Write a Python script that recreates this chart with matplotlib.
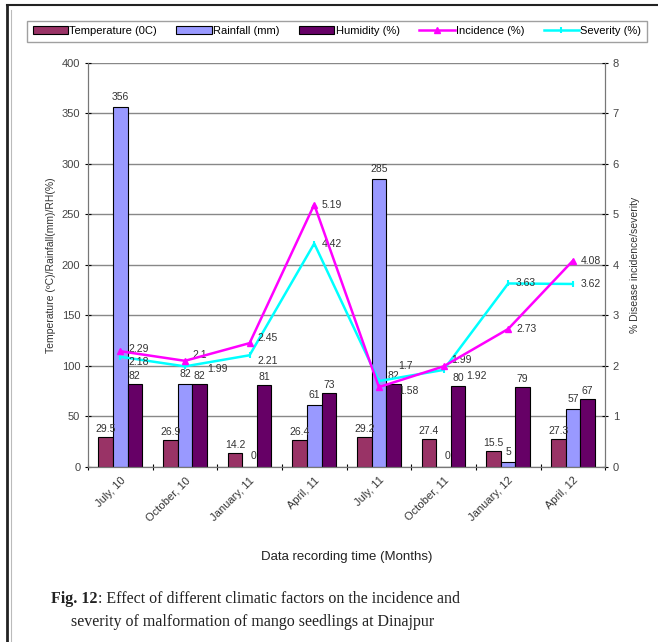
import numpy as np
import matplotlib.pyplot as plt
from matplotlib.lines import Line2D

plt.rcParams['font.family'] = ['Liberation Sans', 'DejaVu Sans']

months = ['July, 10', 'October, 10', 'January, 11', 'April, 11',
          'July, 11', 'October, 11', 'January, 12', 'April, 12']
temperature = [29.5, 26.9, 14.2, 26.4, 29.2, 27.4, 15.5, 27.3]
rainfall = [356, 82, 0, 61, 285, 0, 5, 57]
humidity = [82, 82, 81, 73, 82, 80, 79, 67]
incidence = [2.29, 2.1, 2.45, 5.19, 1.58, 1.99, 2.73, 4.08]
severity = [2.18, 1.99, 2.21, 4.42, 1.7, 1.92, 3.63, 3.62]

# label nudges (x offset, y offset) for the line labels
inc_off = [(0.12, 0.04), (0.12, 0.12), (0.12, 0.1), (0.12, 0.0),
           (0.3, -0.08), (0.12, 0.12), (0.12, 0.0), (0.12, 0.0)]
sev_off = [(0.12, -0.1), (0.35, -0.06), (0.12, -0.12), (0.12, 0.0),
           (0.3, 0.3), (0.35, -0.12), (0.12, 0.0), (0.12, 0.0)]

fig = plt.figure(figsize=(6.58, 6.42), dpi=100)
ax = fig.add_axes([0.1337, 0.2726, 0.786, 0.63])
ax2 = ax.twinx()

x = np.arange(len(months))
w = 0.225
lab = dict(fontsize=7.5, color='#333333', ha='center', va='bottom')

b1 = ax.bar(x - w, temperature, w, color='#993366', edgecolor='black',
            lw=0.8, label='Temperature (0C)', zorder=2)
b2 = ax.bar(x, rainfall, w, color='#9999FF', edgecolor='black',
            lw=0.8, label='Rainfall (mm)', zorder=2)
b3 = ax.bar(x + w, humidity, w, color='#660066', edgecolor='black',
            lw=0.8, label='Humidity (%)', zorder=2)
for i in x:
    ax.text(i - w, temperature[i] + 3, '%g' % temperature[i], **lab)
    if rainfall[i] == 0:
        ax.text(i + 0.02, 8, '0', fontsize=7.5, color='#333333', ha='left')
    else:
        ax.text(i, rainfall[i] + 5, '%g' % rainfall[i], **lab)
    ax.text(i + w, humidity[i] + 3, '%g' % humidity[i], **lab)

l1, = ax2.plot(x, incidence, color='#FF00FF', lw=1.8, marker='^', ms=5,
               label='Incidence (%)', zorder=4)
l2, = ax2.plot(x, severity, color='#00FFFF', lw=1.8, marker='|', ms=5,
               mew=1.5, label='Severity (%)', zorder=3)
for i in x:
    ax2.text(i + inc_off[i][0], incidence[i] + inc_off[i][1],
             '%g' % incidence[i], fontsize=7.5, color='#333333', va='center')
    ax2.text(i + sev_off[i][0], severity[i] + sev_off[i][1],
             '%g' % severity[i], fontsize=7.5, color='#333333', va='center')

ax.set_xlim(-0.5, 7.5)
ax.set_ylim(0, 400)
ax.set_yticks(np.arange(0, 401, 50))
ax2.set_ylim(0, 8)
ax2.set_yticks(np.arange(0, 9, 1))
ax.yaxis.grid(True, color='#888888', lw=1)
ax.set_axisbelow(True)
ax.set_xticks(np.arange(-0.5, 8, 1), minor=False)
ax.set_xticklabels([''] * 9)
ax.set_xticks(x, minor=True)
ax.set_xticklabels(months, minor=True, rotation=45, ha='right',
                   rotation_mode='anchor', fontsize=8, color='#333333')
ax.tick_params(axis='x', which='minor', length=0, pad=6)
ax.tick_params(axis='x', which='major', length=4, direction='inout')
ax.tick_params(axis='y', labelsize=8, labelcolor='#444444', length=4,
               direction='inout')
ax2.tick_params(axis='y', labelsize=8, labelcolor='#444444', length=4,
                direction='inout')
for a in (ax, ax2):
    a.spines['top'].set_visible(False)
    for s in ('left', 'right', 'bottom'):
        a.spines[s].set_color('#777777')

ax.set_ylabel('Temperature (\u00baC)/Rainfall(mm)/RH(%)', fontsize=7.5,
              color='#333333', labelpad=4)
ax2.set_ylabel('% Disease incidence/severity', fontsize=7.5,
               color='#333333', labelpad=8)
ax.set_xlabel('Data recording time (Months)', fontsize=9.5,
              color='#222222', labelpad=20)

fig.legend(handles=[b1, b2, b3, l1, l2], loc='lower left',
           bbox_to_anchor=(0.041, 0.935, 0.942, 0.045), mode='expand',
           ncol=5, fontsize=8, frameon=True, fancybox=False,
           edgecolor='#888888', handlelength=3.2, handletextpad=0.1,
           columnspacing=0.5, borderpad=0.5, borderaxespad=0)

fig.text(0.077, 0.06, 'Fig. 12', fontsize=11.5, family='Liberation Serif',
         weight='bold', color='#222222')
fig.text(0.077 + 0.072, 0.06,
         ': Effect of different climatic factors on the incidence and',
         fontsize=11.5, family='Liberation Serif', color='#222222')
fig.text(0.108, 0.025,
         'severity of malformation of mango seedlings at Dinajpur',
         fontsize=11.5, family='Liberation Serif', color='#222222')

# page frame: dark line on the left and along the top
fig.add_artist(Line2D([0.011, 0.011], [0, 0.992], color='#222222', lw=2,
                      transform=fig.transFigure))
fig.add_artist(Line2D([0.011, 1.0], [0.992, 0.992], color='#222222', lw=1.5,
                      transform=fig.transFigure))
fig.add_artist(Line2D([0.016, 0.016], [0, 0.985], color='#bbbbbb', lw=0.8,
                      transform=fig.transFigure))

fig.savefig('out.png', dpi=100)
